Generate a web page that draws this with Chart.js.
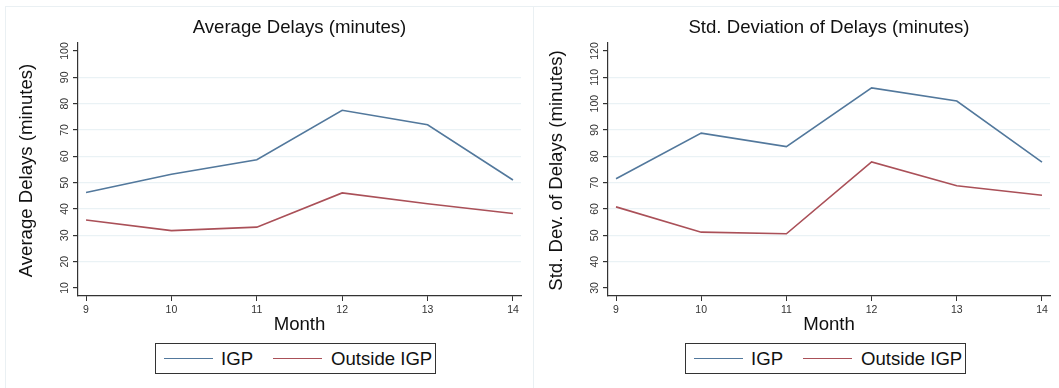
<!DOCTYPE html>
<html>
<head>
<meta charset="utf-8">
<script src="https://cdn.jsdelivr.net/npm/chart.js@4"></script>
<style>
  html, body { margin: 0; padding: 0; background: #fff; }
  body { width: 1059px; height: 388px; position: relative; overflow: hidden; font-family: "Liberation Sans", Arial, sans-serif; }
  .panel { position: absolute; top: 0; height: 388px; }
  .frame { position: absolute; border: 1px solid #eaf0f3; box-sizing: border-box; }
  .legend { position: absolute; left: 155px; top: 343px; width: 281px; height: 31px; border: 1px solid #333; box-sizing: border-box; background: #fff; }
  .legend .ln { position: absolute; top: 14px; height: 0; border-top: 1.5px solid; width: 49px; }
  .legend .tx { position: absolute; top: 4px; font-size: 18.6px; line-height: 21px; color: #111; }
</style>
</head>
<body>
<div class="frame" style="left:5px; top:6px; width:529px; height:390px;"></div>
<div class="frame" style="left:533px; top:6px; width:540px; height:390px;"></div>

<div class="panel" style="left:0; width:530px;">
  <canvas id="c1" width="530" height="388"></canvas>
  <div class="legend">
    <div class="ln" style="left:8px; border-color:#52789c;"></div>
    <div class="tx" style="left:65px;">IGP</div>
    <div class="ln" style="left:117px; border-color:#aa5058;"></div>
    <div class="tx" style="left:175px;">Outside IGP</div>
  </div>
</div>
<div class="panel" style="left:530px; width:529px;">
  <canvas id="c2" width="529" height="388"></canvas>
  <div class="legend">
    <div class="ln" style="left:8px; border-color:#52789c;"></div>
    <div class="tx" style="left:65px;">IGP</div>
    <div class="ln" style="left:117px; border-color:#aa5058;"></div>
    <div class="tx" style="left:175px;">Outside IGP</div>
  </div>
</div>

<script>
// ---- data ----
const months = [9, 10, 11, 12, 13, 14];
const avgIGP = [46.3, 53.2, 58.7, 77.5, 72.0, 51.0];
const avgOutside = [35.8, 31.8, 33.1, 46.1, 42.0, 38.3];
const sdIGP = [71.5, 88.8, 83.7, 106.0, 101.0, 77.8];
const sdOutside = [60.8, 51.2, 50.6, 77.9, 68.8, 65.2];
const avgTicks = [10, 20, 30, 40, 50, 60, 70, 80, 90, 100];
const sdTicks = [30, 40, 50, 60, 70, 80, 90, 100, 110, 120];
const seriesNames = ["IGP", "Outside IGP"];

const FONT = '"Liberation Sans", Arial, sans-serif';
const BLUE = '#52789c';
const RED = '#aa5058';

const textPlugin = {
  id: 'textPlugin',
  afterDraw(chart, args, opts) {
    const ctx = chart.ctx;
    const ca = chart.chartArea;
    const ys = chart.scales.y;
    ctx.save();
    ctx.fillStyle = '#111';
    // title
    ctx.font = '18.6px ' + FONT;
    ctx.textAlign = 'center';
    ctx.textBaseline = 'middle';
    ctx.fillText(opts.title, (ca.left + ca.right) / 2, 28);
    // x title
    ctx.font = '18.6px ' + FONT;
    ctx.fillText(opts.xTitle, (ca.left + ca.right) / 2, 325);
    // y title
    ctx.save();
    ctx.translate(27, (ca.top + ca.bottom) / 2 + 1);
    ctx.rotate(-Math.PI / 2);
    ctx.font = '18.6px ' + FONT;
    ctx.fillText(opts.yTitle, 0, 0);
    ctx.restore();
    // y tick labels, rotated
    ctx.font = '10.5px ' + FONT;
    ctx.fillStyle = '#333';
    opts.yTicks.forEach(v => {
      const py = ys.getPixelForValue(v);
      ctx.save();
      ctx.translate(ca.left - 13, py);
      ctx.rotate(-Math.PI / 2);
      ctx.textAlign = 'center';
      ctx.textBaseline = 'middle';
      ctx.fillText(String(v), 0, 0);
      ctx.restore();
    });
    ctx.restore();
  }
};

function makeChart(id, igp, outside, yTicks, yMin, yMax, title, yTitle) {
  const lo = yTicks[0], hi = yTicks[yTicks.length - 1];
  return new Chart(document.getElementById(id), {
    type: 'line',
    data: {
      datasets: [
        { label: seriesNames[0], data: months.map((m, i) => ({ x: m, y: igp[i] })), borderColor: BLUE, borderWidth: 1.6, pointRadius: 0, tension: 0, fill: false },
        { label: seriesNames[1], data: months.map((m, i) => ({ x: m, y: outside[i] })), borderColor: RED, borderWidth: 1.6, pointRadius: 0, tension: 0, fill: false }
      ]
    },
    options: {
      responsive: false,
      animation: false,
      events: [],
      layout: { padding: { left: 58, right: 9, top: 43, bottom: 52 } },
      plugins: {
        legend: { display: false },
        tooltip: { enabled: false },
        title: { display: false },
        textPlugin: { title: title, yTitle: yTitle, xTitle: 'Month', yTicks: yTicks }
      },
      scales: {
        x: {
          type: 'linear',
          min: 8.906, max: 14.094,
          afterBuildTicks: s => { s.ticks = months.map(v => ({ value: v })); },
          afterFit: s => { s.height = 40; },
          grid: { drawOnChartArea: false, drawTicks: true, tickLength: 5, tickColor: '#333', color: '#333' },
          border: { display: true, color: '#333', width: 1.2 },
          ticks: { font: { size: 10.5, family: FONT }, color: '#333', padding: 3, maxRotation: 0, autoSkip: false }
        },
        y: {
          type: 'linear',
          min: yMin, max: yMax,
          afterBuildTicks: s => { s.ticks = yTicks.map(v => ({ value: v })); },
          afterFit: s => { s.width = 20; },
          grid: {
            drawOnChartArea: true, drawTicks: true, tickLength: 5,
            color: ctx => (ctx.tick && (ctx.tick.value === lo || ctx.tick.value === hi)) ? 'rgba(0,0,0,0)' : '#eaf2f5',
            tickColor: '#333', lineWidth: 1.2
          },
          border: { display: true, color: '#333', width: 1.2 },
          ticks: { display: false }
        }
      }
    },
    plugins: [textPlugin]
  });
}

makeChart('c1', avgIGP, avgOutside, avgTicks, 6.96, 103.04, 'Average Delays (minutes)', 'Average Delays (minutes)');
makeChart('c2', sdIGP, sdOutside, sdTicks, 26.96, 123.04, 'Std. Deviation of Delays (minutes)', 'Std. Dev. of Delays (minutes)');
</script>
</body>
</html>
